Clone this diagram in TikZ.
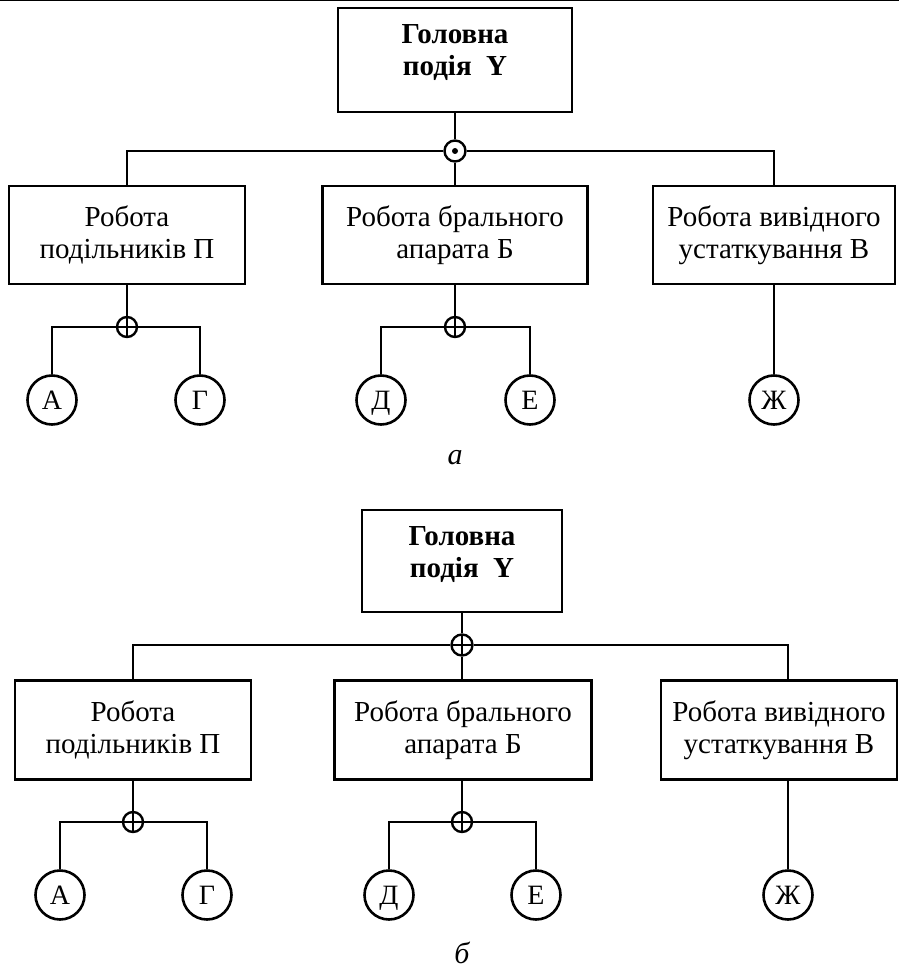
\documentclass[tikz,border=0pt]{standalone}
\usepackage{fontspec}
\setmainfont{Liberation Serif}
\begin{document}
\begin{tikzpicture}[x=1pt,y=-1pt, line width=2.6pt,
 box/.style={draw, line width=2.6pt, align=center, inner sep=0pt, font=\fontsize{29}{32}\selectfont},
 boxtext/.style={align=center, inner sep=0pt, font=\fontsize{29}{32}\selectfont\bfseries},
 ev/.style={draw, circle, line width=2.6pt, minimum size=49pt, inner sep=0pt, text height=19pt, text depth=0pt, font=\fontsize{28}{30}\selectfont},
 orgate/.style={draw, circle, line width=2.4pt, fill=white, minimum size=20pt, inner sep=0pt,
   path picture={\draw[black, line width=2pt] (path picture bounding box.north) -- (path picture bounding box.south)
     (path picture bounding box.west) -- (path picture bounding box.east);}},
 andgate/.style={draw, circle, line width=2.4pt, fill=white, minimum size=21pt, inner sep=0pt,
   path picture={\fill[black] (path picture bounding box.center) circle (3pt);}},
 lbl/.style={font=\fontsize{30}{32}\selectfont\itshape}]
\useasboundingbox (0,0) rectangle (899,973);
\draw[line width=1pt] (0,0.6) -- (899,0.6);

% ---------- part a ----------
\node[box, minimum width=234pt, minimum height=104pt] (aT) at (455,60) {};
\node[boxtext] (aTt) at (455,53) {Головна\\подія\ \ Y};
\node[andgate] (ga) at (455,151) {};
\node[box, minimum width=236pt, minimum height=98pt] (aL) at (127,235) {Робота\\подільників П};
\node[box, minimum width=265pt, minimum height=98pt] (aM) at (455,235) {Робота брального\\апарата Б};
\node[box, minimum width=242pt, minimum height=98pt] (aR) at (774,235) {Робота вивідного\\устаткування В};
\node[orgate] (gaL) at (127,327) {};
\node[orgate] (gaM) at (455,327) {};
\node[ev] (aA) at (52,400) {А};
\node[ev] (aG) at (200,400) {Г};
\node[ev] (aD) at (381,400) {Д};
\node[ev] (aE) at (530,400) {Е};
\node[ev] (aZ) at (774,400) {Ж};
\node[lbl] (la) at (455,458) {а};

\draw (aT.south) -- (ga.north);
\draw (ga.south) -- (aM.north);
\draw (ga.west) -| (aL.north);
\draw (ga.east) -| (aR.north);
\draw (aL.south) -- (gaL.north);
\draw (gaL.west) -| (aA.north);
\draw (gaL.east) -| (aG.north);
\draw (aM.south) -- (gaM.north);
\draw (gaM.west) -| (aD.north);
\draw (gaM.east) -| (aE.north);
\draw (aR.south) -- (aZ.north);

% ---------- part b ----------
\node[box, minimum width=200pt, minimum height=102pt] (bT) at (462,561) {};
\node[boxtext] (bTt) at (462,555) {Головна\\подія\ \ Y};
\node[orgate, minimum size=21pt] (gb) at (462,645) {};
\node[box, minimum width=236pt, minimum height=99pt] (bL) at (133,730) {Робота\\подільників П};
\node[box, minimum width=257pt, minimum height=99pt] (bM) at (463,730) {Робота брального\\апарата Б};
\node[box, minimum width=236pt, minimum height=99pt] (bR) at (779,730) {Робота вивідного\\устаткування В};
\node[orgate] (gbL) at (133,822) {};
\node[orgate] (gbM) at (462,822) {};
\node[ev] (bA) at (60,895) {А};
\node[ev] (bG) at (207,895) {Г};
\node[ev] (bD) at (389,895) {Д};
\node[ev] (bE) at (536,895) {Е};
\node[ev] (bZ) at (788,895) {Ж};
\node[lbl] (lb) at (462,953) {б};

\draw (bT.south) -- (gb.north);
\draw (gb.south) -- (gb.south |- bM.north);
\draw (gb.west) -| (bL.north);
\draw (gb.east) -| (bR.north -| bZ.north);
\draw (bL.south) -- (gbL.north);
\draw (gbL.west) -| (bA.north);
\draw (gbL.east) -| (bG.north);
\draw (bM.south -| gbM.north) -- (gbM.north);
\draw (gbM.west) -| (bD.north);
\draw (gbM.east) -| (bE.north);
\draw (bR.south -| bZ.north) -- (bZ.north);
\end{tikzpicture}
\end{document}
